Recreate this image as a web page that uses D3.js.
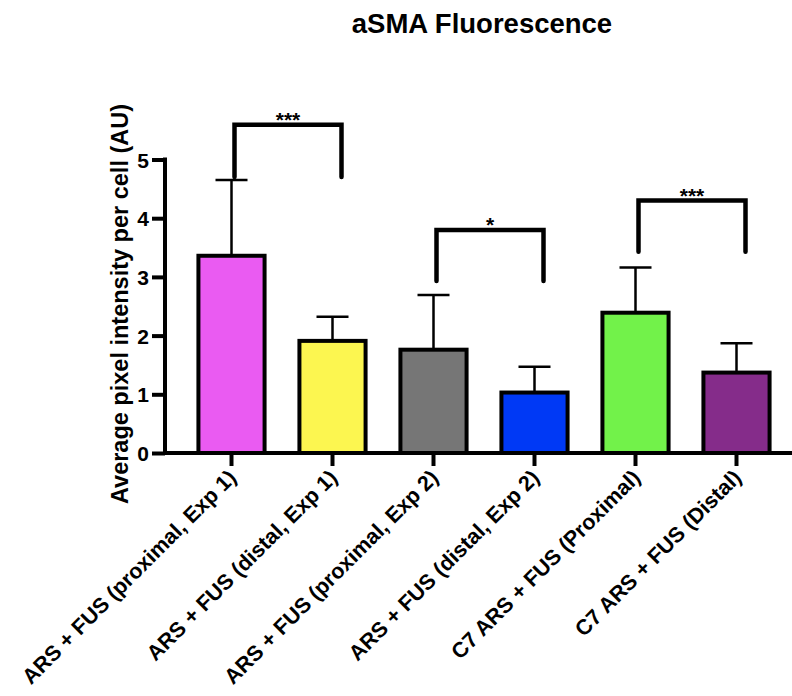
<!DOCTYPE html>
<html>
<head>
<meta charset="utf-8">
<script src="https://cdn.jsdelivr.net/npm/d3@7"></script>
<style>
  body { margin: 0; background: #fff; }
  text { font-family: "Liberation Sans", Arial, Helvetica, sans-serif; font-weight: bold; }
</style>
</head>
<body>
<svg id="chart" width="792" height="696"></svg>
<script>
// data
var groups = ['ARS + FUS (proximal, Exp 1)', 'ARS + FUS (distal, Exp 1)',
              'ARS + FUS (proximal, Exp 2)', 'ARS + FUS (distal, Exp 2)',
              'C7 ARS + FUS (Proximal)', 'C7 ARS + FUS (Distal)'];
var means = [3.36, 1.91, 1.76, 1.03, 2.39, 1.37];
var errTops = [4.65, 2.32, 2.69, 1.47, 3.16, 1.87];
var barColors = ['#EA5BF2', '#FCF650', '#767676', '#0039F5', '#72F24A', '#852C8A'];
var yTicks = [0, 1, 2, 3, 4, 5];
// significance brackets
var sigFrom = [0, 2, 4];
var sigTo = [1, 3, 5];
var sigLevel = [5.59, 3.80, 4.30];
var sigLegEnd = [4.70, 2.93, 3.43];
var sigLabel = ['***', '*', '***'];

var svg = d3.select('#chart');

var x = d3.scaleBand().domain(groups).range([181, 787]).padding(0);
var y = d3.scaleLinear().domain([0, 5]).range([453, 159.5]);
var barW = x.bandwidth() * 0.655;

svg.append('text')
    .attr('x', 482)
    .attr('y', 33)
    .attr('text-anchor', 'middle')
    .style('font-size', '27.5px')
    .text('aSMA Fluorescence');

// error bars first so the bars sit on top
var errG = svg.append('g');
groups.forEach(function(g, i) {
  var cx = x(g) + x.bandwidth() / 2;
  errG.append('line')
      .attr('x1', cx).attr('x2', cx)
      .attr('y1', y(means[i])).attr('y2', y(errTops[i]))
      .style('stroke', '#000').style('stroke-width', 2.5);
  errG.append('line')
      .attr('x1', cx - 16).attr('x2', cx + 16)
      .attr('y1', y(errTops[i])).attr('y2', y(errTops[i]))
      .style('stroke', '#000').style('stroke-width', 2.5);
});

svg.append('g').selectAll('rect')
    .data(groups)
    .enter().append('rect')
    .attr('x', function(d) { return x(d) + (x.bandwidth() - barW) / 2; })
    .attr('width', barW)
    .attr('y', function(d, i) { return y(means[i]); })
    .attr('height', function(d, i) { return y(0) - y(means[i]); })
    .style('fill', function(d, i) { return barColors[i]; })
    .style('stroke', '#000')
    .style('stroke-width', 4);

// y axis
var yAxis = svg.append('g')
    .attr('transform', 'translate(165,0)')
    .call(d3.axisLeft(y).tickValues(yTicks).tickSize(13).tickPadding(3).tickFormat(d3.format('d')));
yAxis.select('.domain').attr('d', 'M0,' + (y(5) - 2) + 'V' + (y(0) + 2)).style('stroke-width', 4);
yAxis.selectAll('.tick line').style('stroke-width', 4);
yAxis.selectAll('.tick text')
    .style('font-size', '21px')
    .style('font-family', '"Liberation Sans", Arial, sans-serif')
    .style('font-weight', 'bold')
    .attr('dy', '0.36em');

// x axis
var xAxis = svg.append('g')
    .attr('transform', 'translate(0,' + y(0) + ')')
    .call(d3.axisBottom(x).tickSize(13).tickFormat(''));
xAxis.select('.domain').attr('d', 'M163,0H792').style('stroke-width', 4);
xAxis.selectAll('.tick line').style('stroke-width', 4);

svg.append('g').selectAll('text')
    .data(groups)
    .enter().append('text')
    .attr('text-anchor', 'end')
    .attr('transform', function(d) {
      return 'translate(' + (x(d) + x.bandwidth() / 2 + 6) + ',479) rotate(-45)';
    })
    .style('font-size', '21.5px')
    .text(function(d) { return d; });

svg.append('text')
    .attr('transform', 'translate(128,304) rotate(-90)')
    .attr('text-anchor', 'middle')
    .style('font-size', '23.5px')
    .text('Average pixel intensity per cell (AU)');

// significance brackets
var sigG = svg.append('g');
sigFrom.forEach(function(a, i) {
  var x1 = x(groups[a]) + x.bandwidth() / 2 + 3;
  var x2 = x(groups[sigTo[i]]) + x.bandwidth() / 2 + 9;
  sigG.append('path')
      .attr('d', 'M' + x1 + ',' + y(sigLegEnd[i]) + 'V' + y(sigLevel[i]) +
                 'H' + x2 + 'V' + y(sigLegEnd[i]))
      .style('fill', 'none')
      .style('stroke', '#000')
      .style('stroke-width', 4.5)
      .style('stroke-linecap', 'round');
  sigG.append('text')
      .attr('x', (x1 + x2) / 2)
      .attr('y', y(sigLevel[i]) + 2)
      .attr('text-anchor', 'middle')
      .style('font-size', '21px')
      .text(sigLabel[i]);
});
</script>
</body>
</html>
